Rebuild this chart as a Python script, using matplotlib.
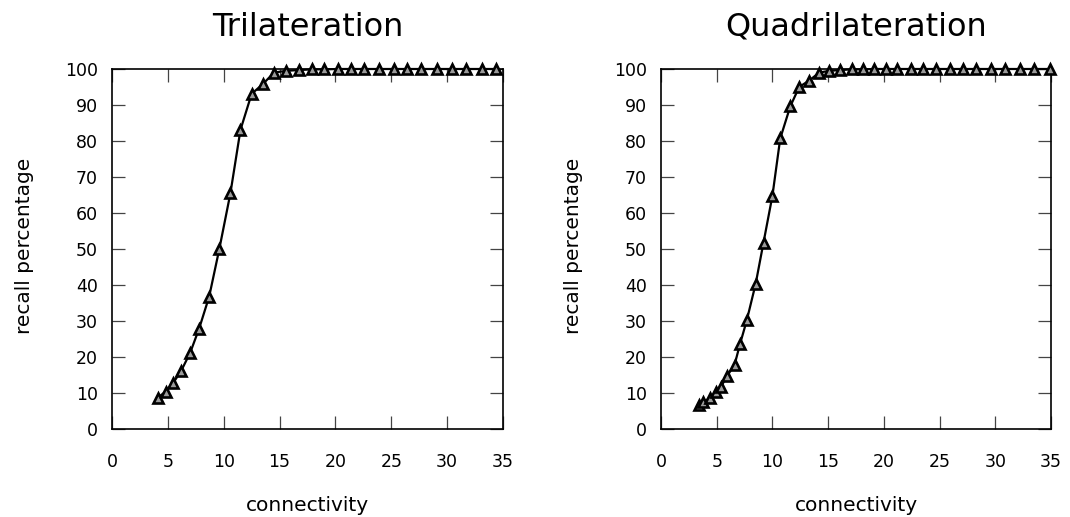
import numpy as np
import matplotlib.pyplot as plt

# connectivity (x) and recall percentage (y)
tri_x = [4.1, 4.8, 5.5, 6.2, 7.0, 7.8, 8.7, 9.6, 10.6, 11.5, 12.5, 13.5, 14.5, 15.6,
         16.7, 17.9, 19.0, 20.2, 21.4, 22.6, 23.9, 25.2, 26.4, 27.7, 29.1, 30.4,
         31.7, 33.1, 34.4]
tri_y = [8.7, 10.4, 12.9, 16.2, 21.2, 27.9, 36.8, 49.9, 65.5, 83.1, 93.1, 95.8, 99.0, 99.5,
         99.7, 99.9, 99.9, 100, 100, 100, 100, 100, 100, 100, 100, 100,
         100, 100, 100]

quad_x = [3.4, 3.8, 4.4, 4.9, 5.4, 5.9, 6.6, 7.1, 7.7, 8.5, 9.2, 10.0, 10.7, 11.6,
          12.4, 13.3, 14.2, 15.1, 16.1, 17.1, 18.1, 19.1, 20.2, 21.2, 22.4, 23.5,
          24.7, 25.9, 27.1, 28.3, 29.6, 30.9, 32.2, 33.5, 34.9]
quad_y = [6.6, 7.6, 8.5, 10.2, 11.8, 14.6, 17.8, 23.7, 30.2, 40.4, 51.8, 64.8, 80.7, 89.6,
          95.0, 96.8, 99.0, 99.5, 99.7, 99.9, 99.9, 100, 100, 100, 100, 100,
          100, 100, 100, 100, 100, 100, 100, 100, 100]

titles = ["Trilateration", "Quadrilateration"]

plt.rcParams['font.family'] = ['DejaVu Sans']

fig = plt.figure(figsize=(10.7, 5.17), dpi=100)
W, H = 1070, 517
boxes = [(112, 391), (661, 390)]

for (left, width), title, xs, ys in zip(boxes, titles, [tri_x, quad_x], [tri_y, quad_y]):
    ax = fig.add_axes([left / W, (H - 429) / H, width / W, 360 / H])
    ax.plot(xs, ys, color='black', lw=1.6, marker='^', ms=7,
            mfc='#9a9a9a', mec='black', mew=1.9, clip_on=False, zorder=3)
    ax.set_xlim(0, 35)
    ax.set_ylim(0, 100)
    ax.set_xticks(range(0, 36, 5))
    ax.set_yticks(range(0, 101, 10))
    ax.tick_params(direction='in', length=9.5, width=0.9, color='#444444',
                   top=True, right=True, labelsize=12.5)
    ax.tick_params(axis='x', pad=17)
    ax.tick_params(axis='y', pad=10)
    for s in ax.spines.values():
        s.set_linewidth(1.2)
    ax.set_title(title, fontsize=23, pad=24)
    ax.set_xlabel("connectivity", fontsize=14.5)
    ax.xaxis.set_label_coords(0.5, -0.185)
    ax.set_ylabel("recall percentage", fontsize=14.5)
    ax.yaxis.set_label_coords(-0.20, 0.51)

fig.savefig("out.png", dpi=100)
